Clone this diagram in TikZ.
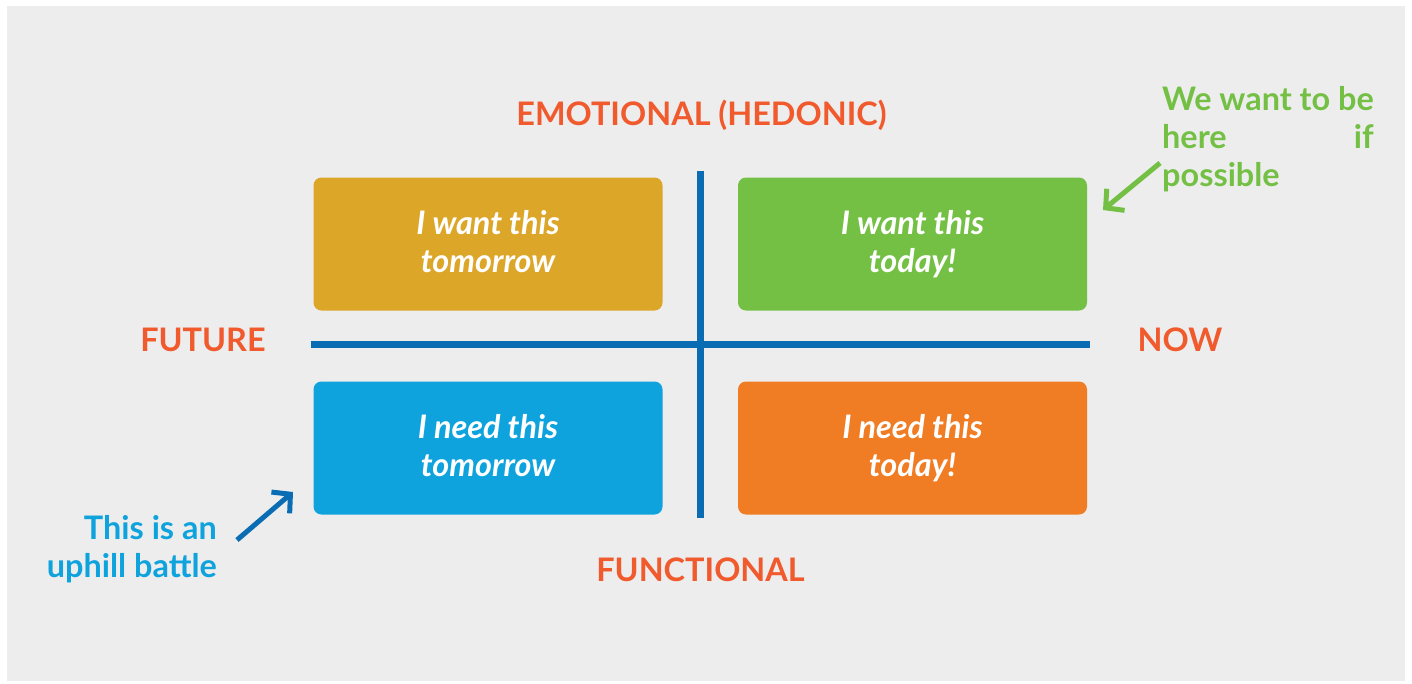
\documentclass[tikz,border=0pt]{standalone}
\usepackage{fontspec}
\setmainfont{Lato}
\usetikzlibrary{arrows.meta}
\definecolor{bggray}{HTML}{EDEDED}
\definecolor{titlered}{HTML}{F05A2D}
\definecolor{gold}{HTML}{DCA629}
\definecolor{leafgreen}{HTML}{74C044}
\definecolor{skyblue}{HTML}{0FA3DD}
\definecolor{boxorange}{HTML}{F07C23}
\definecolor{axisblue}{HTML}{0A6DB4}
\newcommand\boxstrut{\rule[-9pt]{0pt}{37pt}}
\tikzset{
  quad/.style={rectangle, rounded corners=8pt, minimum width=349pt, minimum height=133pt,
    inner sep=0pt, text=white, align=center,
    font=\fontsize{32.4}{38}\selectfont\bfseries\itshape},
  axislabel/.style={text=titlered, inner sep=0pt, anchor=base,
    font=\fontsize{32.4}{38}\selectfont\bfseries},
  axisline/.style={draw=axisblue, line width=7pt},
  note/.style={inner sep=0pt, font=\fontsize{32.4}{38}\selectfont\bfseries},
  pointer/.style={line width=5pt, -{Straight Barb[length=13pt,width=28pt]}}
}
\begin{document}
\begin{tikzpicture}[x=1pt,y=-1pt]
\useasboundingbox (0,0) rectangle (1412,683);
\fill[white] (0,0) rectangle (1412,683);
\fill[bggray] (7,6) rectangle (1405,681);
% quadrant boxes
\node[quad, fill=gold] (tl) at (488,244) {I want this\boxstrut\\tomorrow\boxstrut};
\node[quad, fill=leafgreen] (tr) at (912.5,244) {I want this\boxstrut\\today!\boxstrut};
\node[quad, fill=skyblue] (bl) at (488,448) {I need this\boxstrut\\tomorrow\boxstrut};
\node[quad, fill=boxorange] (br) at (912.5,448) {I need this\boxstrut\\today!\boxstrut};
% axes
\coordinate (vtop) at (700,171);
\coordinate (vbot) at (700,518);
\coordinate (hleft) at (311,344.5);
\coordinate (hright) at (1090,344.5);
\draw[axisline] (vtop) -- (vbot);
\draw[axisline] (hleft) -- (hright);
% axis labels
\node[axislabel] (emo) at (701.5,125) {EMOTIONAL (HEDONIC)};
\node[axislabel] (fut) at (203,351.5) {FUTURE};
\node[axislabel] (now) at (1180,351.5) {NOW};
\node[axislabel] (fun) at (700.5,581) {FUNCTIONAL};
% notes
\node[note, text=leafgreen, anchor=base west] (want) at (1162,186)
  {\begin{tabular}[b]{@{}l@{}}We want to be\\here\hfill if\\possible\end{tabular}};
\node[note, text=skyblue, align=right, anchor=base east] (uphill) at (217,577)
  {This is an\\uphill battle};
\coordinate (gstart) at (1160,163);
\coordinate (gend) at (1103,210);
\coordinate (bstart) at (237,540);
\coordinate (bend) at (293,492);
\draw[pointer, leafgreen] (gstart) -- (gend);
\draw[pointer, axisblue] (bstart) -- (bend);
\end{tikzpicture}
\end{document}
